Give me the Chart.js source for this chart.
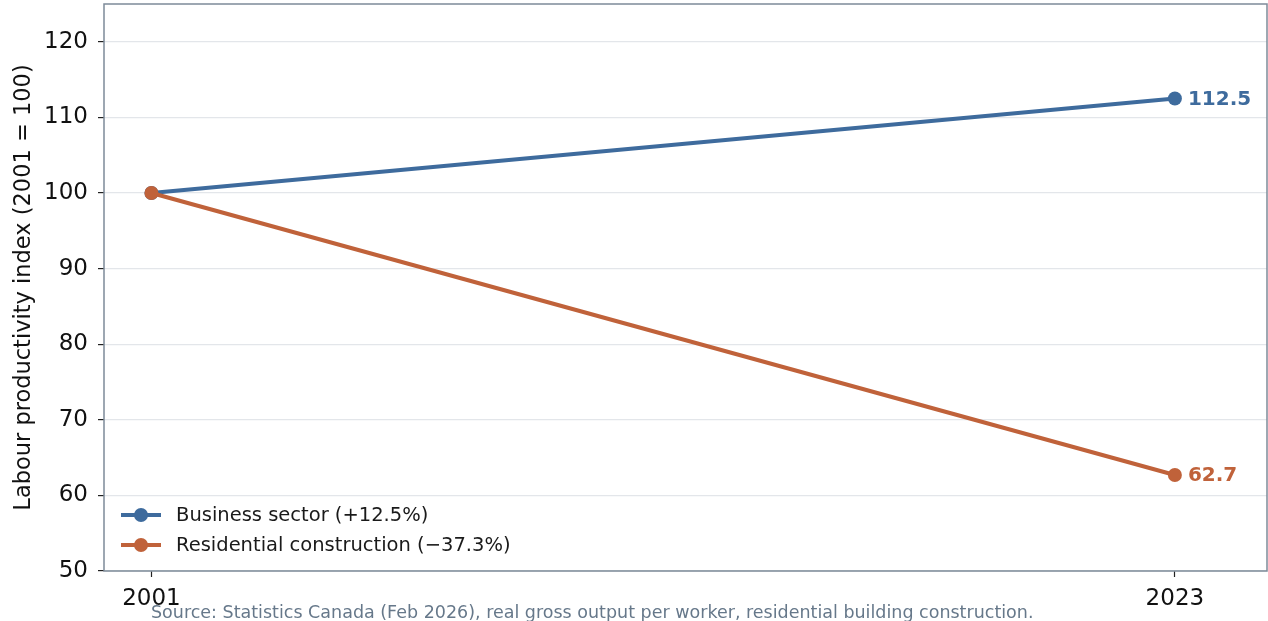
<!DOCTYPE html>
<html>
<head>
<meta charset="utf-8">
<script src="https://cdn.jsdelivr.net/npm/chart.js@4.4.1/dist/chart.umd.min.js"></script>
<style>
  html, body { margin: 0; padding: 0; background: #ffffff; }
  #wrap { width: 1268px; height: 621px; position: relative; }
</style>
</head>
<body>
<div id="wrap"><canvas id="chart" width="1268" height="621"></canvas></div>
<script>
// Labour productivity index, 2001 = 100
const years = [2001, 2023];
const businessSector = [100, 112.5];
const residentialConstruction = [100, 62.7];
const seriesNames = ['Business sector (+12.5%)', 'Residential construction (\u221237.3%)'];
const xTickValues = [2001, 2023];
const yTickValues = [50, 60, 70, 80, 90, 100, 110, 120];
const sourceNote = 'Source: Statistics Canada (Feb 2026), real gross output per worker, residential building construction.';

const BLUE = '#3e6b9d';
const ORANGE = '#c0623a';
const SPINE = '#7d8b99';
const FONT = "'DejaVu Sans', sans-serif";

function toPoints(vals) {
  return years.map((y, i) => ({ x: y, y: vals[i] }));
}

// Spines around the plot area, value labels at line ends, legend and source note
const decorations = {
  id: 'decorations',
  afterDatasetsDraw(chart) {
    const { ctx, chartArea: a } = chart;
    ctx.save();
    // box
    ctx.strokeStyle = SPINE;
    ctx.lineWidth = 1.5;
    ctx.strokeRect(a.left, a.top, a.right - a.left, a.bottom - a.top);

    // end-point value labels
    ctx.font = 'bold 20px ' + FONT;
    ctx.textBaseline = 'middle';
    ctx.textAlign = 'left';
    chart.data.datasets.forEach((ds, i) => {
      const meta = chart.getDatasetMeta(i);
      const last = meta.data[meta.data.length - 1];
      const v = ds.data[ds.data.length - 1].y;
      ctx.fillStyle = ds.borderColor;
      ctx.fillText(v.toFixed(1), last.x + 13, last.y + 1);
    });

    // legend (line + marker handles)
    ctx.font = '19.5px ' + FONT;
    chart.data.datasets.forEach((ds, i) => {
      const cy = 515 + i * 30;
      ctx.strokeStyle = ds.borderColor;
      ctx.lineWidth = 4;
      ctx.beginPath();
      ctx.moveTo(121, cy);
      ctx.lineTo(161, cy);
      ctx.stroke();
      ctx.fillStyle = ds.borderColor;
      ctx.beginPath();
      ctx.arc(141, cy, 7, 0, Math.PI * 2);
      ctx.fill();
      ctx.fillStyle = '#1a1a1a';
      ctx.textBaseline = 'middle';
      ctx.fillText(ds.label, 176, cy + 1);
    });
    ctx.restore();
  },
  afterDraw(chart) {
    const { ctx } = chart;
    ctx.save();
    ctx.font = '17.5px ' + FONT;
    ctx.fillStyle = '#66788a';
    ctx.textAlign = 'left';
    ctx.textBaseline = 'alphabetic';
    ctx.fillText(sourceNote, 151, 618);
    ctx.restore();
  }
};

new Chart(document.getElementById('chart'), {
  type: 'line',
  data: {
    datasets: [
      {
        label: seriesNames[0],
        data: toPoints(businessSector),
        borderColor: BLUE,
        backgroundColor: BLUE,
        borderWidth: 4,
        pointRadius: 7,
        pointHoverRadius: 7,
        pointBorderWidth: 0,
        tension: 0,
        clip: false,
        order: 2
      },
      {
        label: seriesNames[1],
        data: toPoints(residentialConstruction),
        borderColor: ORANGE,
        backgroundColor: ORANGE,
        borderWidth: 4,
        pointRadius: 7,
        pointHoverRadius: 7,
        pointBorderWidth: 0,
        tension: 0,
        clip: false,
        order: 1
      }
    ]
  },
  options: {
    responsive: false,
    animation: false,
    layout: { autoPadding: false, padding: { top: 4, right: 1, left: 0, bottom: 0 } },
    plugins: {
      legend: { display: false },
      tooltip: { enabled: false }
    },
    scales: {
      x: {
        type: 'linear',
        min: 1999.98,
        max: 2024.98,
        afterBuildTicks(scale) { scale.ticks = xTickValues.map(v => ({ value: v })); },
        afterFit(scale) {
          scale.height = 50;
          scale.paddingLeft = 0;
          scale.paddingRight = 0;
        },
        grid: {
          drawOnChartArea: false,
          drawTicks: true,
          tickLength: 6,
          tickColor: '#222222',
          tickWidth: 1.2
        },
        border: { display: false },
        ticks: {
          color: '#111111',
          font: { family: FONT, size: 23 },
          padding: 8,
          maxRotation: 0,
          callback: v => String(v)
        }
      },
      y: {
        min: 50,
        max: 125,
        afterBuildTicks(scale) { scale.ticks = yTickValues.map(v => ({ value: v })); },
        afterFit(scale) {
          scale.width = 104;
          scale.paddingTop = 0;
          scale.paddingBottom = 0;
        },
        grid: {
          color: '#e3e6ea',
          lineWidth: 1.2,
          drawTicks: true,
          tickLength: 6,
          tickColor: '#222222',
          tickWidth: 1.2
        },
        border: { display: false },
        ticks: {
          color: '#111111',
          font: { family: FONT, size: 23 },
          padding: 10
        },
        title: {
          display: true,
          text: 'Labour productivity index (2001 = 100)',
          color: '#111111',
          font: { family: FONT, size: 22.5 },
          padding: { top: 11, bottom: 0 }
        }
      }
    }
  },
  plugins: [decorations]
});
</script>
</body>
</html>
